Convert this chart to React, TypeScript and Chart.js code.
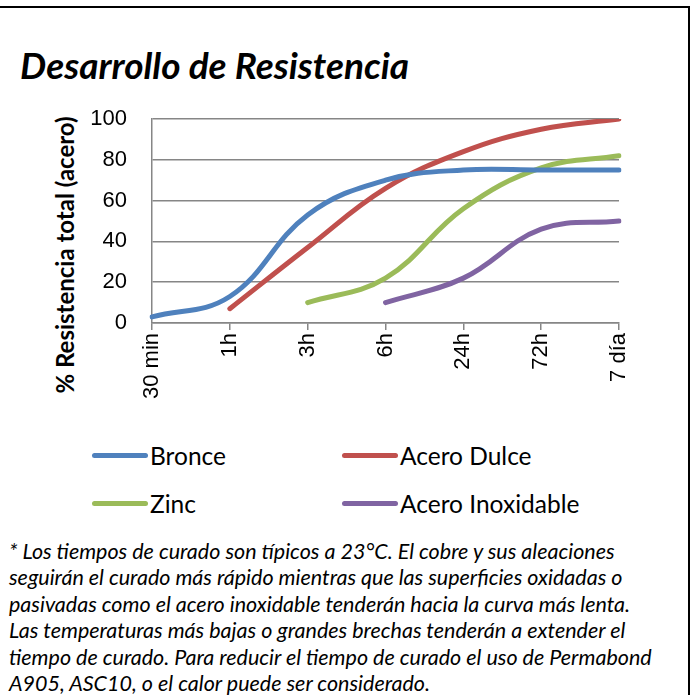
import React, { useEffect, useRef } from "react";
import { Chart, registerables } from "chart.js";

Chart.register(...registerables);

const categories = ["30 min", "1h", "3h", "6h", "24h", "72h", "7 día"];
const bronce = [3, 13, 53, 70, 75, 75, 75];
const aceroDulce = [null, 7, 37, 66, 84, 95, 100];
const zinc = [null, null, 10, 22, 56, 76, 82];
const aceroInox = [null, null, null, 10, 22, 46, 50];
const yTicks = [0, 20, 40, 60, 80, 100];
const seriesNames = ["Bronce", "Acero Dulce", "Zinc", "Acero Inoxidable"];
const seriesColors = ["#4F81BD", "#C0504D", "#9BBB59", "#8064A2"];
const seriesData = [bronce, aceroDulce, zinc, aceroInox];

const titleText = "Desarrollo de Resistencia";
const yTitle = "% Resistencia total (acero)";
const footnoteLines = [
  "* Los tiempos de curado son típicos a 23°C. El cobre y sus aleaciones",
  "seguirán el curado más rápido mientras que las superficies oxidadas o",
  "pasivadas como el acero inoxidable tenderán hacia la curva más lenta.",
  "Las temperaturas más bajas o grandes brechas tenderán a extender el",
  "tiempo de curado. Para reducir el tiempo de curado el uso de Permabond",
  "A905, ASC10, o el calor puede ser considerado.",
];

const gridColor = "#868686";
const tickFont = { family: "'Liberation Sans', Arial, sans-serif", size: 22 };

export default function App() {
  const canvasRef = useRef<HTMLCanvasElement | null>(null);

  useEffect(() => {
    const canvas = canvasRef.current;
    if (!canvas) return;
    const chart = new Chart(canvas, {
      type: "line",
      data: {
        labels: categories,
        datasets: seriesNames.map((name, i) => ({
          label: name,
          data: seriesData[i] as (number | null)[],
          borderColor: seriesColors[i],
          backgroundColor: seriesColors[i],
          borderWidth: 5,
          pointRadius: 0,
          pointHoverRadius: 0,
          tension: 0.4,
          borderCapStyle: "round" as const,
          borderJoinStyle: "round" as const,
          fill: false,
        })),
      },
      options: {
        animation: false,
        responsive: true,
        maintainAspectRatio: false,
        layout: { padding: { left: 0, top: 19, right: 81, bottom: 0 } },
        plugins: {
          legend: { display: false },
          tooltip: { enabled: false },
          title: { display: false },
        },
        scales: {
          x: {
            type: "category",
            offset: false,
            grid: {
              drawOnChartArea: false,
              drawTicks: true,
              tickLength: 7,
              color: gridColor,
              lineWidth: 1.5,
            },
            border: { color: gridColor, width: 1.5 },
            ticks: {
              minRotation: 90,
              maxRotation: 90,
              autoSkip: false,
              padding: 3,
              color: "#000",
              font: tickFont,
            },
            afterFit: (s: any) => {
              s.height = 87;
            },
          },
          y: {
            min: 0,
            max: 100,
            afterBuildTicks: (s: any) => {
              s.ticks = yTicks.map((v) => ({ value: v }));
            },
            grid: {
              color: gridColor,
              lineWidth: 1.5,
              drawTicks: true,
              tickLength: 24,
              tickColor: "rgba(0,0,0,0)",
            },
            border: { color: gridColor, width: 1.5 },
            ticks: { padding: 1, color: "#000", font: tickFont },
            afterFit: (s: any) => {
              s.width = 152;
            },
          },
        },
      },
    });
    return () => chart.destroy();
  }, []);

  return (
    <div
      style={{
        position: "absolute",
        left: 0,
        top: 0,
        width: 700,
        height: 695,
        overflow: "hidden",
        background: "#fff",
        fontFamily: "Lato, 'Noto Sans', sans-serif",
        color: "#000",
      }}
    >
      <div
        style={{
          position: "absolute",
          left: -4,
          top: 6,
          width: 694,
          height: 760,
          border: "2px solid #000",
          boxSizing: "border-box",
        }}
      />
      <div
        style={{
          position: "absolute",
          left: 20,
          top: 43,
          fontSize: 37,
          fontWeight: 700,
          fontStyle: "italic",
          lineHeight: "44px",
          whiteSpace: "nowrap",
        }}
      >
        {titleText}
      </div>
      <div
        style={{
          position: "absolute",
          left: 65,
          top: 255,
          transform: "translate(-50%, -50%) rotate(-90deg)",
          fontSize: 24,
          fontWeight: 700,
          whiteSpace: "nowrap",
          lineHeight: "28px",
        }}
      >
        {yTitle}
      </div>
      <div style={{ position: "absolute", left: 0, top: 100, width: 700, height: 310 }}>
        <canvas ref={canvasRef} />
      </div>
      {seriesNames.map((name, i) => (
        <div
          key={name}
          style={{
            position: "absolute",
            left: i % 2 === 0 ? 92 : 342,
            top: i < 2 ? 440 : 488,
            height: 30,
            display: "flex",
            alignItems: "center",
            fontSize: 24.5,
            whiteSpace: "nowrap",
          }}
        >
          <span
            style={{
              display: "inline-block",
              width: 56,
              height: 5,
              borderRadius: 3,
              background: seriesColors[i],
              marginRight: 2,
            }}
          />
          <span>{name}</span>
        </div>
      ))}
      <div
        style={{
          position: "absolute",
          left: 9,
          top: 538,
          fontSize: 21.5,
          fontStyle: "italic",
          lineHeight: "26.4px",
          whiteSpace: "nowrap",
        }}
      >
        {footnoteLines.map((l, i) => (
          <div key={i}>{l}</div>
        ))}
      </div>
    </div>
  );
}
